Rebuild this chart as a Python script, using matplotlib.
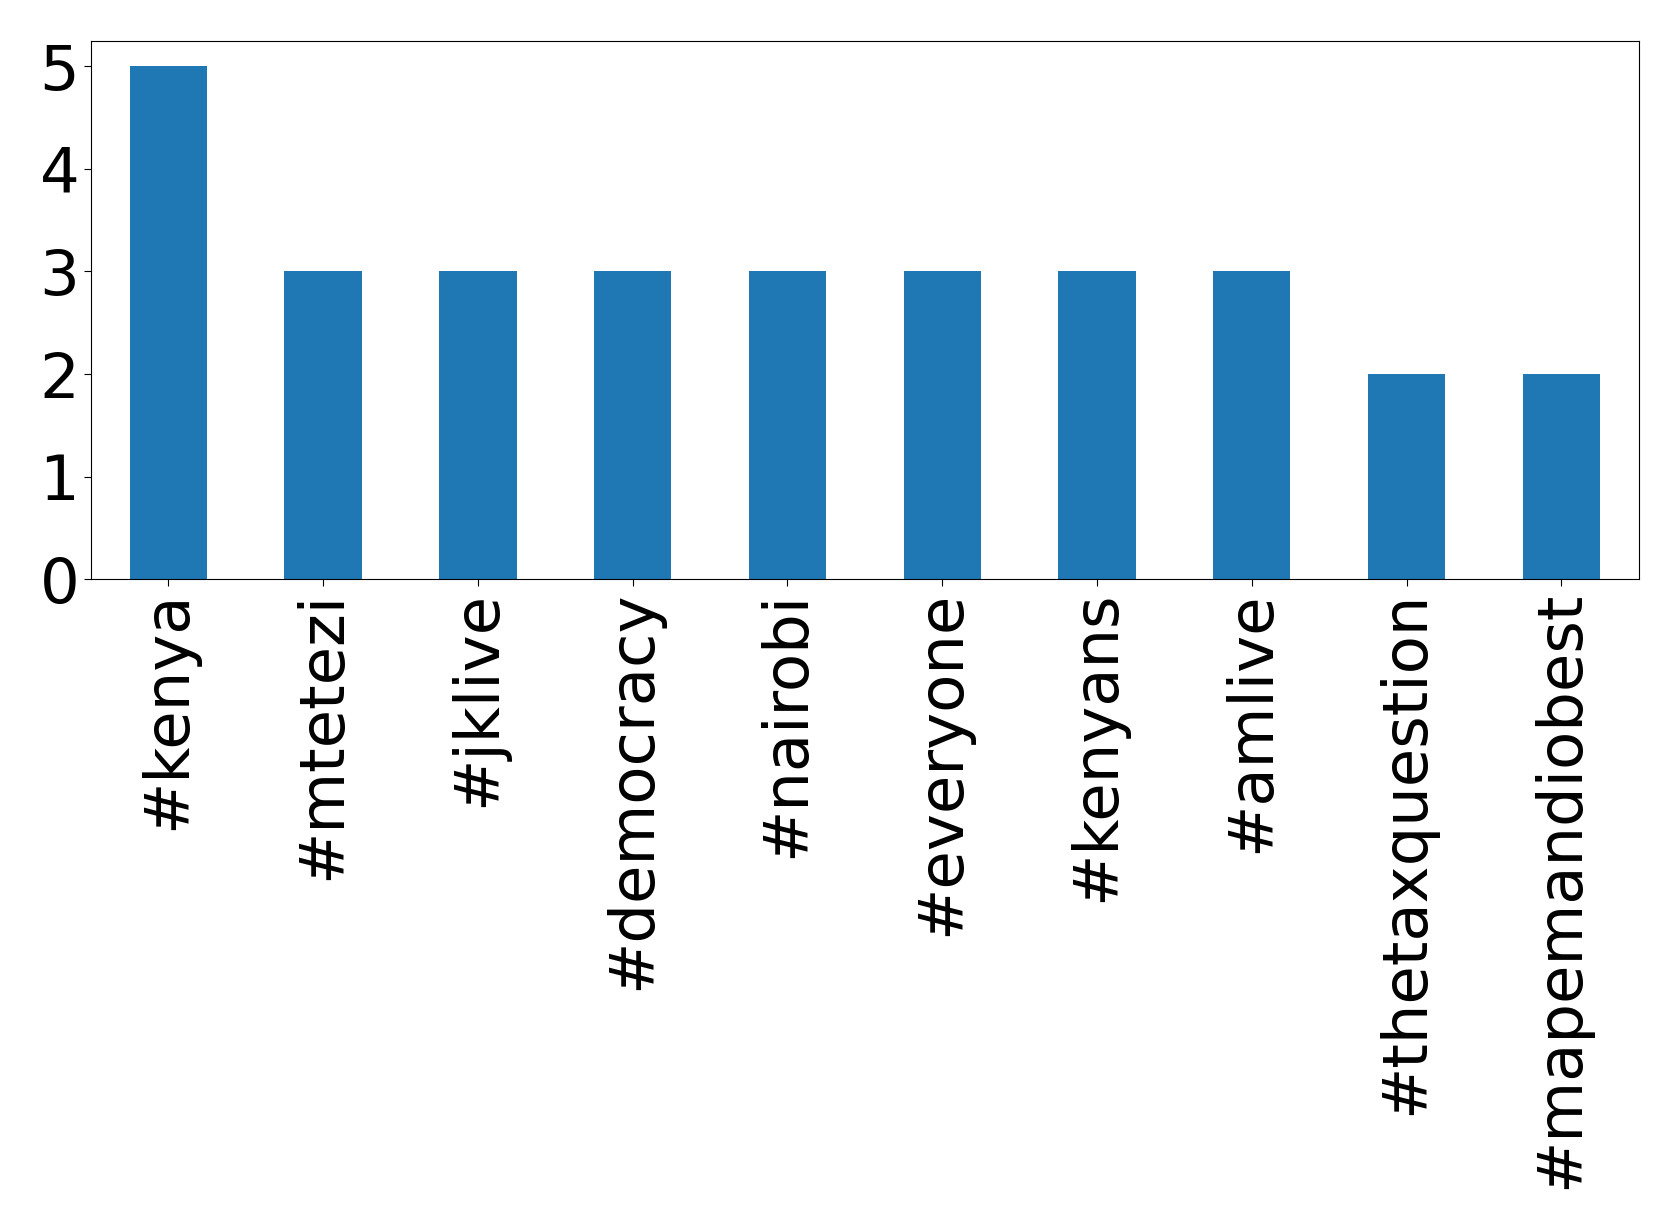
import matplotlib
matplotlib.use("Agg")
import matplotlib.pyplot as plt
import numpy as np

hashtags = ['#kenya', '#mtetezi', '#jklive', '#democracy', '#nairobi',
            '#everyone', '#kenyans', '#amlive', '#thetaxquestion', '#mapemandiobest']
counts = [5, 3, 3, 3, 3, 3, 3, 3, 2, 2]

fig = plt.figure(figsize=(16.79, 12.27), dpi=100)
ax = fig.add_axes([0.0542, 0.528, 0.9218, 0.4388])

x = np.arange(len(hashtags))
ax.bar(x, counts, width=0.5, color='#1f77b4')
ax.set_xlim(-0.5, len(hashtags) - 0.5)
ax.set_ylim(0, 5.25)
ax.set_yticks(range(6))
ax.set_xticks(x)
ax.set_xticklabels(hashtags, rotation=90)
ax.tick_params(labelsize=45, length=5)

fig.savefig('out.png', dpi=100)
